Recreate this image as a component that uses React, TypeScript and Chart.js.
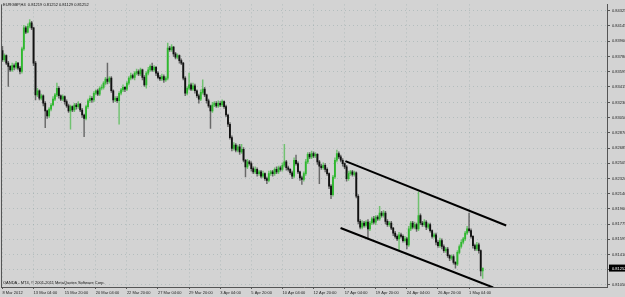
import React, { useEffect, useRef } from 'react';
import { Chart, registerables } from 'chart.js';

Chart.register(...registerables);

const symbolTitle = 'EURGBP,H4';
const lastQuote = ['0.81219', '0.81252', '0.81129', '0.81252'];
const copyright = 'OANDA - MT4, \u00A9 2001-2011 MetaQuotes Software Corp.';

const firstOpen = 0.8385;
const closes = [
  0.8374, 0.8379, 0.8370, 0.8366, 0.8362, 0.8367, 0.8365, 0.8370, 0.8364, 0.8360,
  0.8387, 0.8412, 0.8407, 0.8414, 0.8418, 0.8412, 0.8370, 0.8332, 0.8337, 0.8328,
  0.8331, 0.8322, 0.8313, 0.8307, 0.8315, 0.8320, 0.8327, 0.8332, 0.8340, 0.8331,
  0.8327, 0.8330, 0.8324, 0.8319, 0.8313, 0.8318, 0.8314, 0.8320, 0.8318, 0.8321,
  0.8314, 0.8308, 0.8304, 0.8318, 0.8325, 0.8328, 0.8326, 0.8334, 0.8337, 0.8333,
  0.8340, 0.8341, 0.8346, 0.8351, 0.8348, 0.8352, 0.8337, 0.8326, 0.8328, 0.8325,
  0.8334, 0.8338, 0.8341, 0.8339, 0.8346, 0.8352, 0.8355, 0.8353, 0.8358, 0.8360,
  0.8357, 0.8362, 0.8353, 0.8344, 0.8358, 0.8362, 0.8366, 0.8362, 0.8365, 0.8358,
  0.8353, 0.8351, 0.8354, 0.8350, 0.8352, 0.8388, 0.8386, 0.8389, 0.8381, 0.8377,
  0.8379, 0.8373, 0.8370, 0.8352, 0.8334, 0.8340, 0.8344, 0.8339, 0.8343, 0.8337,
  0.8331, 0.8327, 0.8335, 0.8339, 0.8332, 0.8325, 0.8319, 0.8313, 0.8320, 0.8322,
  0.8319, 0.8322, 0.8320, 0.8324, 0.8318, 0.8308, 0.8297, 0.8281, 0.8268, 0.8272,
  0.8266, 0.8270, 0.8264, 0.8267, 0.8254, 0.8246, 0.8252, 0.8250, 0.8244, 0.8240,
  0.8243, 0.8238, 0.8240, 0.8235, 0.8238, 0.8232, 0.8230, 0.8238, 0.8240, 0.8238,
  0.8243, 0.8240, 0.8245, 0.8243, 0.8248, 0.8252, 0.8245, 0.8243, 0.8239, 0.8235,
  0.8254, 0.8250, 0.8240, 0.8233, 0.8231, 0.8238, 0.8252, 0.8261, 0.8258, 0.8262,
  0.8259, 0.8261, 0.8252, 0.8247, 0.8245, 0.8248, 0.8243, 0.8238, 0.8223, 0.8213,
  0.8234, 0.8254, 0.8262, 0.8258, 0.8254, 0.8250, 0.8246, 0.8232, 0.8238, 0.8240,
  0.8237, 0.8239, 0.8211, 0.8181, 0.8174, 0.8179, 0.8176, 0.8180, 0.8172, 0.8179,
  0.8184, 0.8180, 0.8186, 0.8184, 0.8191, 0.8188, 0.8191, 0.8181, 0.8177, 0.8179,
  0.8173, 0.8167, 0.8163, 0.8160, 0.8165, 0.8163, 0.8158, 0.8160, 0.8153, 0.8172,
  0.8179, 0.8174, 0.8177, 0.8172, 0.8188, 0.8179, 0.8177, 0.8180, 0.8174, 0.8177,
  0.8170, 0.8163, 0.8165, 0.8156, 0.8152, 0.8158, 0.8151, 0.8146, 0.8148, 0.8140,
  0.8137, 0.8139, 0.8132, 0.8130, 0.8144, 0.8151, 0.8156, 0.8160, 0.8167, 0.8172,
  0.8170, 0.8163, 0.8152, 0.8148, 0.8153, 0.8146, 0.81219, 0.81252,
];

// wick lengths beyond the body, in pips (0.0001)
const wickUp = [
  5, 2, 1, 2, 1, 3, 2, 2, 1, 2,
  2, 3, 2, 3, 4, 2, 1, 2, 3, 1,
  2, 1, 2, 1, 2, 2, 3, 2, 6, 2,
  1, 2, 1, 2, 2, 2, 1, 2, 2, 3,
  1, 2, 1, 2, 2, 3, 2, 2, 1, 2,
  2, 3, 2, 2, 19, 2, 2, 1, 2, 2,
  2, 2, 3, 1, 2, 2, 3, 2, 2, 3,
  2, 2, 1, 2, 2, 3, 2, 4, 2, 1,
  2, 2, 3, 2, 2, 6, 2, 3, 1, 2,
  2, 1, 2, 1, 2, 2, 14, 2, 3, 2,
  1, 2, 3, 11, 2, 1, 2, 1, 3, 2,
  2, 3, 2, 2, 1, 2, 1, 2, 2, 3,
  2, 2, 3, 6, 2, 1, 3, 2, 2, 2,
  3, 2, 2, 2, 3, 1, 2, 3, 2, 2,
  2, 3, 2, 2, 3, 21, 2, 2, 1, 2,
  3, 6, 2, 1, 2, 2, 3, 2, 2, 3,
  2, 2, 1, 2, 2, 3, 2, 2, 1, 2,
  2, 3, 4, 2, 2, 2, 1, 2, 3, 2,
  2, 2, 1, 2, 2, 3, 2, 2, 3, 2,
  2, 3, 2, 2, 8, 2, 3, 2, 2, 2,
  2, 1, 2, 2, 3, 2, 2, 3, 2, 3,
  2, 2, 3, 2, 28, 2, 2, 3, 2, 2,
  2, 1, 2, 2, 2, 3, 2, 2, 2, 2,
  1, 2, 2, 1, 2, 2, 3, 2, 2, 3,
  19, 2, 1, 2, 3, 2, 1, 0,
];
const wickDown = [
  2, 2, 2, 24, 2, 2, 3, 2, 2, 3,
  2, 2, 2, 1, 2, 2, 3, 6, 2, 2,
  2, 3, 20, 3, 2, 2, 1, 2, 2, 3,
  2, 2, 3, 2, 2, 22, 2, 2, 3, 2,
  2, 3, 22, 2, 2, 2, 3, 2, 2, 2,
  2, 2, 2, 2, 3, 2, 2, 3, 2, 2,
  28, 2, 2, 3, 2, 2, 2, 2, 3, 2,
  2, 2, 3, 2, 4, 2, 2, 2, 2, 3,
  2, 2, 2, 3, 2, 2, 2, 2, 3, 2,
  2, 3, 2, 2, 3, 2, 2, 2, 2, 3,
  2, 5, 2, 2, 2, 3, 2, 21, 2, 2,
  2, 2, 2, 2, 2, 2, 3, 2, 3, 2,
  2, 2, 3, 2, 2, 12, 2, 2, 3, 2,
  2, 3, 2, 2, 2, 2, 4, 2, 2, 3,
  2, 2, 2, 2, 2, 2, 3, 2, 2, 3,
  2, 2, 2, 3, 6, 2, 2, 2, 2, 2,
  2, 2, 3, 21, 2, 2, 3, 2, 3, 5,
  2, 2, 2, 2, 2, 3, 2, 3, 2, 2,
  2, 2, 2, 3, 2, 2, 2, 2, 12, 2,
  2, 2, 3, 2, 2, 2, 2, 3, 2, 2,
  2, 3, 2, 2, 14, 2, 2, 2, 5, 2,
  2, 2, 2, 3, 2, 2, 2, 2, 3, 2,
  2, 2, 2, 3, 2, 2, 3, 2, 2, 2,
  3, 2, 2, 5, 2, 2, 2, 2, 2, 2,
  2, 2, 3, 2, 2, 3, 6, 9,
];
const pip = 0.0001;

const timeTickIndex = [0, 16, 32, 48, 64, 80, 96, 112, 128, 144, 160, 176, 192, 208, 224, 240];
const timeTickLabels = [
  '8 Mar 2012', '13 Mar 04:00', '15 Mar 20:00', '20 Mar 04:00', '22 Mar 20:00', '27 Mar 04:00',
  '29 Mar 20:00', '3 Apr 04:00', '5 Apr 20:00', '10 Apr 04:00', '12 Apr 20:00', '17 Apr 04:00',
  '19 Apr 20:00', '24 Apr 04:00', '26 Apr 20:00', '1 May 04:00',
];
const priceTicks = [
  0.84325, 0.84145, 0.8396, 0.8378, 0.83595, 0.83415, 0.8323, 0.8305, 0.8287, 0.82685,
  0.82505, 0.8232, 0.8214, 0.8196, 0.81775, 0.81595, 0.8141, 0.8123, 0.8105,
];
const priceMin = 0.81026;
const priceMax = 0.84401;
const indexMin = -0.75;
const indexMax = 310.95;

const upperTrendIdx = [176.4, 259.1];
const upperTrendPrice = [0.8253, 0.8176];
const lowerTrendIdx = [173.9, 252.4];
const lowerTrendPrice = [0.8173, 0.8102];

const BG = '#d3d3d3';
const UP = '#2eb82e';
const DOWN = '#111111';
const FONT = 'Liberation Sans';

export default function App() {
  const ref = useRef<HTMLCanvasElement>(null);

  useEffect(() => {
    document.body.style.margin = '0';
    const canvas = ref.current;
    if (!canvas) return;

    const opens = closes.map((c, i) => (i === 0 ? firstOpen : closes[i - 1]));
    const isUp = closes.map((c, i) => c >= opens[i]);
    const highs = closes.map((c, i) => Math.max(opens[i], c) + wickUp[i] * pip);
    const lows = closes.map((c, i) => Math.min(opens[i], c) - wickDown[i] * pip);
    const bodies = closes.map((c, i) => ({ x: i, y: [opens[i], c] }));
    const wicks = closes.map((c, i) => ({ x: i, y: [lows[i], highs[i]] }));
    const lastClose = closes[closes.length - 1];

    const bgPlugin = {
      id: 'bg',
      beforeDraw(chart: any) {
        const ctx = chart.ctx;
        ctx.save();
        ctx.fillStyle = BG;
        ctx.fillRect(0, 0, chart.width, chart.height);
        ctx.restore();
      },
    };

    const overlayPlugin = {
      id: 'overlay',
      afterDraw(chart: any) {
        const ctx = chart.ctx;
        const area = chart.chartArea;
        ctx.save();
        ctx.strokeStyle = '#555';
        ctx.lineWidth = 1;
        ctx.beginPath();
        ctx.moveTo(area.left + 0.5, area.top);
        ctx.lineTo(area.left + 0.5, area.bottom);
        ctx.stroke();
        ctx.fillStyle = '#111';
        ctx.font = `4px ${FONT}`;
        ctx.textBaseline = 'middle';
        ctx.textAlign = 'left';
        ctx.fillText(`${symbolTitle}  ${lastQuote.join(' ')}`, 3, 5);
        ctx.fillText(copyright, 3, 283);
        const y = chart.scales.y.getPixelForValue(lastClose);
        ctx.fillStyle = '#000';
        ctx.fillRect(area.right + 2, y - 3.5, chart.width - area.right - 2, 7);
        ctx.fillStyle = '#fff';
        ctx.fillText(lastQuote[3], area.right + 5, y + 0.5);
        ctx.restore();
      },
    };

    const chart = new Chart(canvas, {
      type: 'bar',
      data: {
        datasets: [
          {
            type: 'line',
            data: upperTrendIdx.map((x, i) => ({ x, y: upperTrendPrice[i] })),
            borderColor: '#000',
            borderWidth: 2,
            pointRadius: 0,
            order: 0,
          } as any,
          {
            type: 'line',
            data: lowerTrendIdx.map((x, i) => ({ x, y: lowerTrendPrice[i] })),
            borderColor: '#000',
            borderWidth: 2,
            pointRadius: 0,
            order: 0,
          } as any,
          {
            data: bodies as any,
            backgroundColor: isUp.map((u) => (u ? UP : DOWN)),
            borderWidth: 0,
            barThickness: 1.2,
            minBarLength: 1,
            grouped: false,
            order: 1,
          } as any,
          {
            data: wicks as any,
            backgroundColor: isUp.map((u) => (u ? 'rgba(46,184,46,0.6)' : 'rgba(0,0,0,0.5)')),
            borderWidth: 0,
            barThickness: 0.8,
            grouped: false,
            order: 2,
          } as any,
        ],
      },
      options: {
        responsive: false,
        animation: false,
        devicePixelRatio: 1,
        layout: { padding: { left: 1, top: 0, right: 0, bottom: 0 } },
        plugins: { legend: { display: false }, tooltip: { enabled: false } },
        scales: {
          x: {
            type: 'linear',
            min: indexMin,
            max: indexMax,
            offset: false,
            position: 'bottom',
            afterBuildTicks: (s: any) => {
              s.ticks = timeTickIndex.map((v) => ({ value: v }));
            },
            afterFit: (s: any) => {
              s.height = 10;
            },
            grid: {
              offset: false,
              color: 'rgba(120,150,150,0.35)',
              tickColor: '#555',
              tickLength: 2,
              lineWidth: 1,
            },
            border: { display: true, color: '#555', width: 1, dash: [1, 3] },
            ticks: {
              autoSkip: false,
              maxRotation: 0,
              minRotation: 0,
              align: 'start',
              padding: 1,
              color: '#222',
              font: { family: FONT, size: 4 },
              callback: (_v: any, i: number) => timeTickLabels[i],
            },
          } as any,
          y: {
            type: 'linear',
            position: 'right',
            min: priceMin,
            max: priceMax,
            afterBuildTicks: (s: any) => {
              s.ticks = priceTicks.map((v) => ({ value: v }));
            },
            afterFit: (s: any) => {
              s.width = 18;
            },
            grid: {
              color: 'rgba(120,150,150,0.35)',
              tickColor: '#555',
              tickLength: 3,
              lineWidth: 1,
            },
            border: { display: true, color: '#555', width: 1, dash: [1, 3] },
            ticks: {
              autoSkip: false,
              padding: 2,
              color: '#222',
              font: { family: FONT, size: 4 },
              callback: (v: any) => Number(v).toFixed(5),
            },
          } as any,
        },
      },
      plugins: [bgPlugin, overlayPlugin],
    });

    return () => chart.destroy();
  }, []);

  return (
    <div style={{ position: 'absolute', left: 0, top: 0, width: 625, height: 297 }}>
      <canvas ref={ref} width={625} height={297} style={{ display: 'block' }} />
    </div>
  );
}
